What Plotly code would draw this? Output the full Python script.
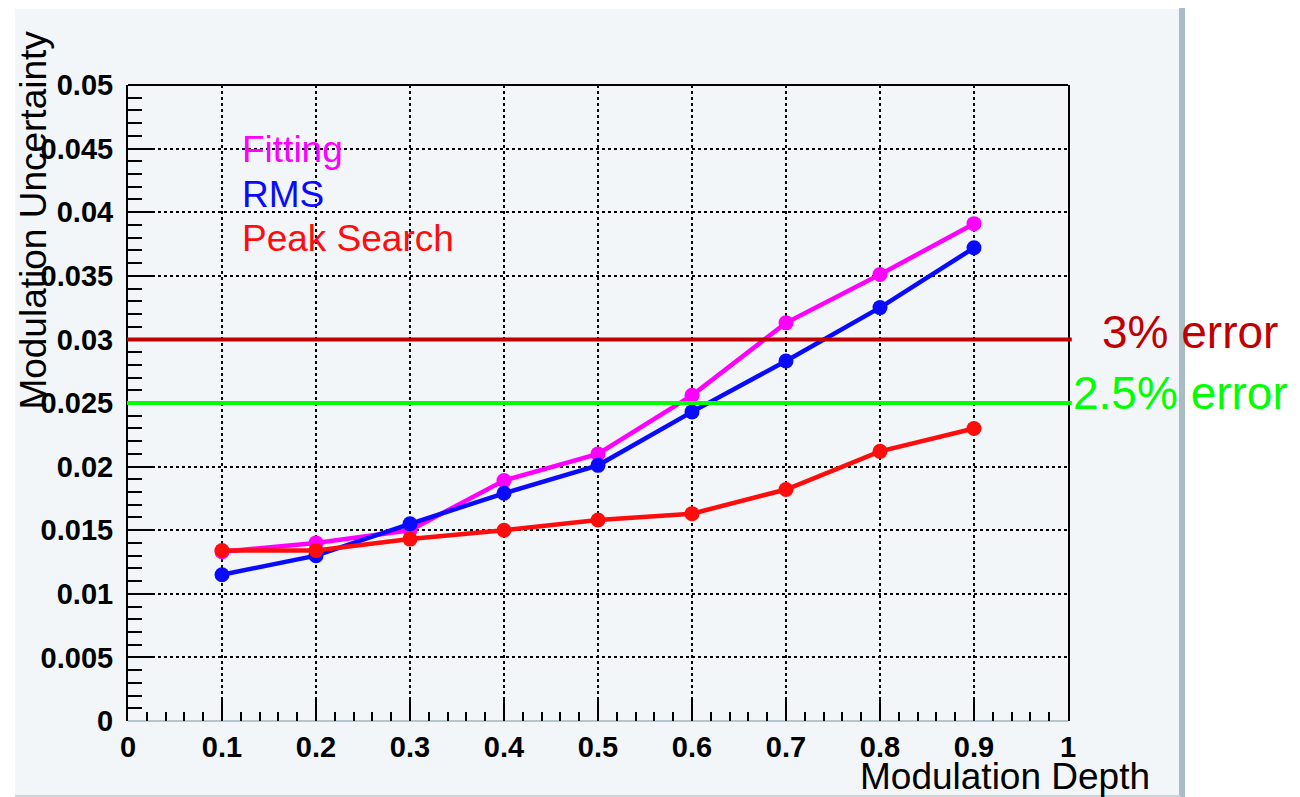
import plotly.graph_objects as go

# ---- data ----
depth = [0.1, 0.2, 0.3, 0.4, 0.5, 0.6, 0.7, 0.8, 0.9]
fitting = [0.0133, 0.0140, 0.0150, 0.0189, 0.0210, 0.0256, 0.0313, 0.0351, 0.0391]
rms = [0.0115, 0.0130, 0.0155, 0.0179, 0.0201, 0.0243, 0.0283, 0.0325, 0.0372]
peak_search = [0.0134, 0.0134, 0.0143, 0.0150, 0.0158, 0.0163, 0.0182, 0.0212, 0.0230]

series_names = ["Fitting", "RMS", "Peak Search"]
series_colors = ["#ff00ff", "#0a0aff", "#ff0d0d"]

thresholds = [0.03, 0.025]
threshold_labels = ["3% error", "2.5% error"]
threshold_colors = ["#c00000", "#00ff00"]

x_ticks = [0, 0.1, 0.2, 0.3, 0.4, 0.5, 0.6, 0.7, 0.8, 0.9, 1]
x_ticklabels = ["0", "0.1", "0.2", "0.3", "0.4", "0.5", "0.6", "0.7", "0.8", "0.9", "1"]
y_ticks = [0, 0.005, 0.01, 0.015, 0.02, 0.025, 0.03, 0.035, 0.04, 0.045, 0.05]
y_ticklabels = ["0", "0.005", "0.01", "0.015", "0.02", "0.025", "0.03", "0.035", "0.04", "0.045", "0.05"]

x_title = "Modulation Depth"
y_title = "Modulation Uncertainty"

# ---- style ----
FONT = "Liberation Sans, Arial, Helvetica, sans-serif"
BG = "#f2f6f9"
EDGE = "#a9bcc4"

fig = go.Figure()

for name, ys, col in zip(series_names, [fitting, rms, peak_search], series_colors):
    fig.add_trace(go.Scatter(
        x=depth, y=ys, mode="lines+markers", name=name,
        line=dict(color=col, width=4.5),
        marker=dict(color=col, size=15, line=dict(width=0)),
        cliponaxis=False, showlegend=False,
    ))

# canvas background and right edge
fig.add_shape(type="rect", xref="paper", yref="paper",
              x0=-0.1202, x1=1.1191, y0=-0.1195, y1=1.1195,
              fillcolor=BG, line=dict(width=0), layer="below")
fig.add_shape(type="rect", xref="paper", yref="paper",
              x0=1.1181, x1=1.1245, y0=-0.1195, y1=1.1258,
              fillcolor=EDGE, line=dict(width=0), layer="below")
fig.add_shape(type="line", xref="paper", yref="paper",
              x0=-0.1202, x1=1.1191, y0=-0.1180, y1=-0.1180,
              line=dict(color="#c9d6dc", width=2), layer="below")

# frame: top black line, bottom grey line
fig.add_shape(type="line", xref="paper", yref="paper", x0=0, x1=1, y0=1, y1=1,
              line=dict(color="black", width=2), layer="above")
fig.add_shape(type="line", xref="paper", yref="paper", x0=0, x1=1, y0=0, y1=0,
              line=dict(color="#b4c6ce", width=2), layer="below")

# threshold lines and labels
label_x = [1.034, 1.003]
label_y = [0.03055, 0.0258]
for val, lab, col, lx, ly in zip(thresholds, threshold_labels, threshold_colors, label_x, label_y):
    fig.add_shape(type="line", xref="paper", yref="y", x0=-0.001, x1=1.004, y0=val, y1=val,
                  line=dict(color=col, width=4), layer="above")
    fig.add_annotation(x=lx, y=ly, xref="paper", yref="y", text=lab, showarrow=False,
                       xanchor="left", yanchor="middle",
                       font=dict(family=FONT, size=46, color=col))

# legend-like labels
legend_y = [0.0449, 0.0414, 0.0379]
for name, col, ly in zip(series_names, series_colors, legend_y):
    fig.add_annotation(x=0.119, y=ly, xref="x", yref="y", text=name, showarrow=False,
                       xanchor="left", yanchor="middle",
                       font=dict(family=FONT, size=37, color=col))

# axis titles
fig.add_annotation(x=-0.1015, y=0.7877, xref="paper", yref="paper", text=y_title,
                   showarrow=False, textangle=-90, xanchor="center", yanchor="middle",
                   font=dict(family=FONT, size=37, color="black"))
fig.add_annotation(x=1.0894, y=-0.0870, xref="paper", yref="paper", text=x_title,
                   showarrow=False, xanchor="right", yanchor="middle",
                   font=dict(family=FONT, size=37, color="black"))

tickfont = dict(family=FONT, size=29, color="black", weight="bold")

fig.update_xaxes(
    range=[0, 1], tickvals=x_ticks, ticktext=x_ticklabels,
    ticks="inside", ticklen=23, tickwidth=1.5, tickcolor="black",
    minor=dict(dtick=0.02, tick0=0, ticks="inside", ticklen=9, tickwidth=1.5,
               tickcolor="black", showgrid=False),
    showgrid=True, gridcolor="black", gridwidth=1.5, griddash="dot",
    showline=False, zeroline=False, tickfont=tickfont,
    ticklabelstandoff=6,
)
fig.update_yaxes(
    range=[0, 0.05], tickvals=y_ticks, ticktext=y_ticklabels,
    ticks="inside", ticklen=27, tickwidth=1.5, tickcolor="black",
    minor=dict(dtick=0.001, tick0=0, ticks="inside", ticklen=14, tickwidth=1.5,
               tickcolor="black", showgrid=False),
    showgrid=True, gridcolor="black", gridwidth=1.5, griddash="dot",
    showline=True, linecolor="black", linewidth=2, mirror=True,
    zeroline=False, tickfont=tickfont, ticklabelstandoff=7,
)

# the page adds an 8px body margin, so the figure is 8px smaller
fig.update_layout(
    width=1292, height=789,
    margin=dict(l=120, r=232, t=77, b=76),
    paper_bgcolor="white", plot_bgcolor=BG,
    font=dict(family=FONT, color="black"),
    showlegend=False,
)

fig.write_html("out.html")
